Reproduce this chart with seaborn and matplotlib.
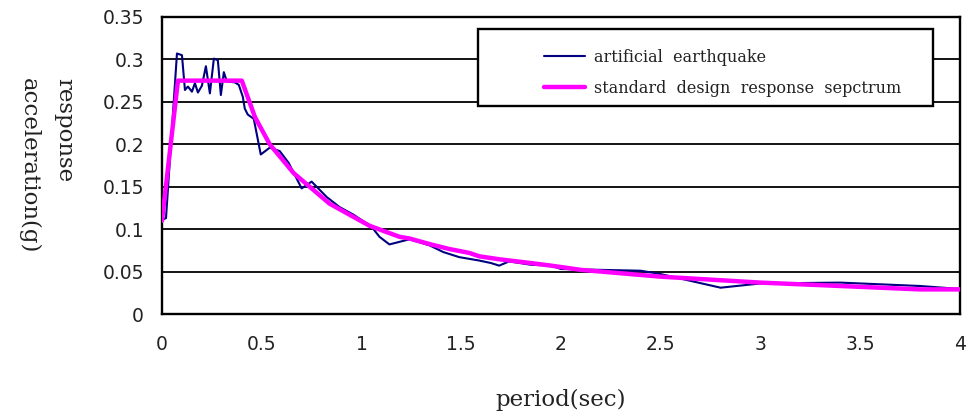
import matplotlib
matplotlib.use("Agg")
import matplotlib.pyplot as plt
from matplotlib.patches import Rectangle
import numpy as np
import pandas as pd
import seaborn as sns

# Response spectrum of the generated ground motion
quake_period = [0.0, 0.02, 0.075, 0.10, 0.115, 0.13, 0.15, 0.165, 0.18, 0.20, 0.22,
                0.24, 0.26, 0.28, 0.295, 0.31, 0.325, 0.365, 0.385, 0.405, 0.415,
                0.43, 0.46, 0.495, 0.54, 0.59, 0.635, 0.70, 0.75, 0.825, 0.89,
                0.96, 1.05, 1.09, 1.14, 1.19, 1.24, 1.34, 1.41, 1.49, 1.59, 1.65,
                1.69, 1.74, 1.85, 1.95, 2.0, 2.4, 2.5, 2.8, 3.0, 3.4, 3.8, 4.0]
quake_accel = [0.111, 0.113, 0.307, 0.305, 0.264, 0.268, 0.262, 0.272, 0.261, 0.269,
               0.292, 0.260, 0.301, 0.299, 0.258, 0.285, 0.274, 0.273, 0.270, 0.256,
               0.242, 0.235, 0.230, 0.188, 0.196, 0.192, 0.178, 0.148, 0.156, 0.138,
               0.126, 0.117, 0.103, 0.091, 0.082, 0.085, 0.088, 0.081, 0.073, 0.067,
               0.063, 0.060, 0.057, 0.062, 0.058, 0.057, 0.053, 0.051, 0.047, 0.031,
               0.036, 0.037, 0.033, 0.0295]

# Standard design response spectrum
design_period = [0.0, 0.08, 0.40, 0.466, 0.54, 0.66, 0.69, 0.84, 0.94, 1.04, 1.19,
                 1.24, 1.34, 1.44, 1.54, 1.59, 1.69, 1.85, 1.95, 2.1, 2.5, 3.0,
                 3.4, 3.8, 4.0]
design_accel = [0.110, 0.275, 0.275, 0.232, 0.200, 0.166, 0.160, 0.130, 0.117, 0.104,
                0.091, 0.089, 0.0825, 0.0766, 0.072, 0.068, 0.0645, 0.060, 0.057,
                0.052, 0.044, 0.037, 0.033, 0.029, 0.029]

x_ticks = [0, 0.5, 1, 1.5, 2, 2.5, 3, 3.5, 4]
x_tick_labels = ["0", "0.5", "1", "1.5", "2", "2.5", "3", "3.5", "4"]
y_ticks = [0, 0.05, 0.1, 0.15, 0.2, 0.25, 0.3, 0.35]
y_tick_labels = ["0", "0.05", "0.1", "0.15", "0.2", "0.25", "0.3", "0.35"]

quake_name = "artificial  earthquake"
design_name = "standard  design  response  sepctrum"

quake_df = pd.DataFrame({"period": quake_period, "accel": quake_accel})
design_df = pd.DataFrame({"period": design_period, "accel": design_accel})

sns.set_style("white")
plt.rcParams["font.family"] = ["DejaVu Sans"]
serif = ["DejaVu Serif"]
text_color = "#222222"

fig = plt.figure(figsize=(9.66, 4.17), dpi=100)
ax = fig.add_axes([162 / 966, 1 - 314 / 417, (960 - 162) / 966, (314 - 17) / 417])

sns.lineplot(data=quake_df, x="period", y="accel", ax=ax, color="#000080",
             linewidth=1.5, sort=False, estimator=None, label=quake_name, zorder=3)
sns.lineplot(data=design_df, x="period", y="accel", ax=ax, color="#FF00FF",
             linewidth=3.2, sort=False, estimator=None, label=design_name, zorder=4)

ax.set_xlim(0, 4)
ax.set_ylim(0, 0.35)
ax.set_xticks(x_ticks)
ax.set_xticklabels(x_tick_labels)
ax.set_yticks(y_ticks)
ax.set_yticklabels(y_tick_labels)

ax.yaxis.grid(True, color="black", linewidth=1.3, zorder=1)
ax.xaxis.grid(False)
ax.set_axisbelow(True)

for side in ["left", "right", "top", "bottom"]:
    ax.spines[side].set_visible(True)
    ax.spines[side].set_color("black")
    ax.spines[side].set_linewidth(1.7)

ax.tick_params(axis="x", direction="in", length=5, width=1.3, color="black",
               pad=15, labelsize=13.5, labelcolor=text_color)
ax.tick_params(axis="y", length=0, pad=13, labelsize=13.5, labelcolor=text_color)

ax.set_xlabel("period(sec)", fontsize=16.5, family=serif, labelpad=25,
              color=text_color)
ax.set_ylabel("response\nacceleration(g)", fontsize=16.5, family=serif,
              rotation=270, multialignment="left", ha="center", va="center",
              linespacing=1.75, color=text_color)
ax.yaxis.set_label_coords(-0.145, 0.5)

# Legend panel: white box with a black border, entries placed inside it
box = Rectangle(((478 - 162) / 798, (314 - 106) / 297), (933 - 478) / 798,
                (106 - 29) / 297, transform=ax.transAxes, facecolor="white",
                edgecolor="black", linewidth=1.7, zorder=5)
ax.add_patch(box)
leg = ax.legend(loc="upper left", bbox_to_anchor=((544 - 162) / 798, (314 - 49) / 297),
                frameon=False, prop={"family": serif, "size": 11.5},
                handlelength=2.55, handletextpad=0.55, labelspacing=0.85,
                borderaxespad=0, borderpad=0)
leg.set_zorder(6)
for txt in leg.get_texts():
    txt.set_color(text_color)

fig.savefig("out.png", dpi=100)
